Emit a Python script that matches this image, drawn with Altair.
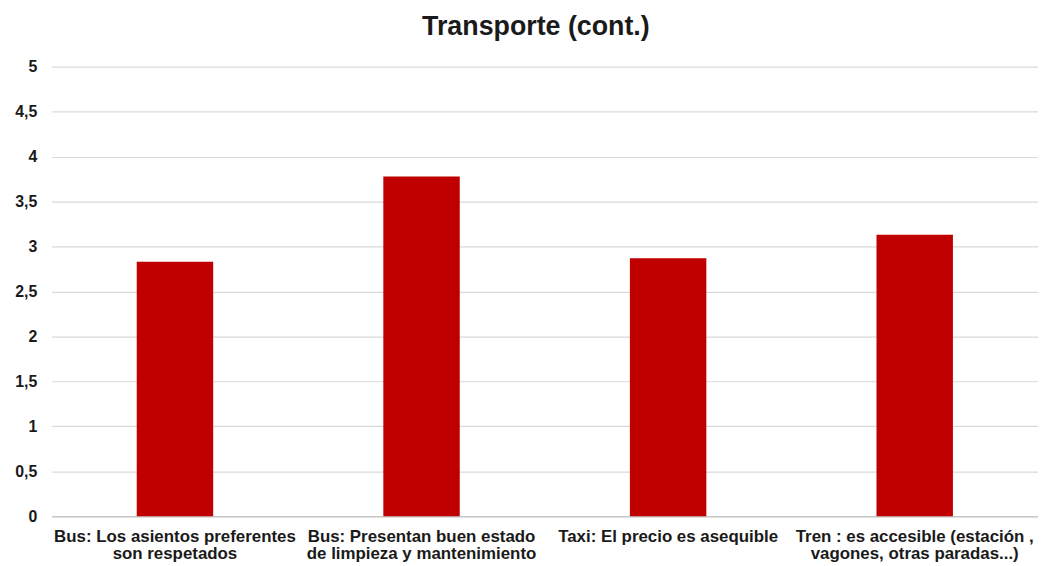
import altair as alt
import pandas as pd

categories = [
    "Bus: Los asientos preferentes|son respetados",
    "Bus: Presentan buen estado|de limpieza y mantenimiento",
    "Taxi: El precio es asequible",
    "Tren : es accesible (estación ,|vagones, otras paradas...)",
]
values = [2.83, 3.78, 2.87, 3.13]

df = pd.DataFrame({"cat": categories, "val": values})

FONT = "Liberation Sans"

chart = alt.Chart(df).mark_bar(color="#C00000", width={"band": 0.31}).encode(
    x=alt.X("cat:N", sort=categories, title=None,
            scale=alt.Scale(paddingInner=0, paddingOuter=0),
            axis=alt.Axis(labelAngle=0, labelExpr="split(datum.label, '|')",
                          labelFont=FONT, labelFontSize=17, labelFontWeight="bold",
                          labelColor="#1a1a1a", labelPadding=12, labelLimit=300,
                          labelLineHeight=18,
                          ticks=False, domainColor="#c8c8c8", domainWidth=1.5)),
    y=alt.Y("val:Q", title=None,
            scale=alt.Scale(domain=[0, 5]),
            axis=alt.Axis(values=[0, 0.5, 1, 1.5, 2, 2.5, 3, 3.5, 4, 4.5, 5],
                          labelExpr="replace(format(datum.value, '~g'), '.', ',')",
                          labelFont=FONT, labelFontSize=16, labelFontWeight="bold",
                          labelColor="#1a1a1a", labelPadding=15,
                          ticks=False, domain=False,
                          gridColor="#d9d9d9", gridWidth=1.2)),
).properties(
    width=994,
    height=453,
    padding={"left": 44, "top": 57, "right": 0, "bottom": 48},
    autosize=alt.AutoSizeParams(type="none"),
    title=alt.TitleParams("Transporte (cont.)", font=FONT, fontSize=27,
                          fontWeight="bold", color="#1a1a1a", anchor="middle",
                          offset=18, dx=-9),
).configure_view(stroke=None)

chart.save("out.html", embed_options={"renderer": "svg", "actions": False})
